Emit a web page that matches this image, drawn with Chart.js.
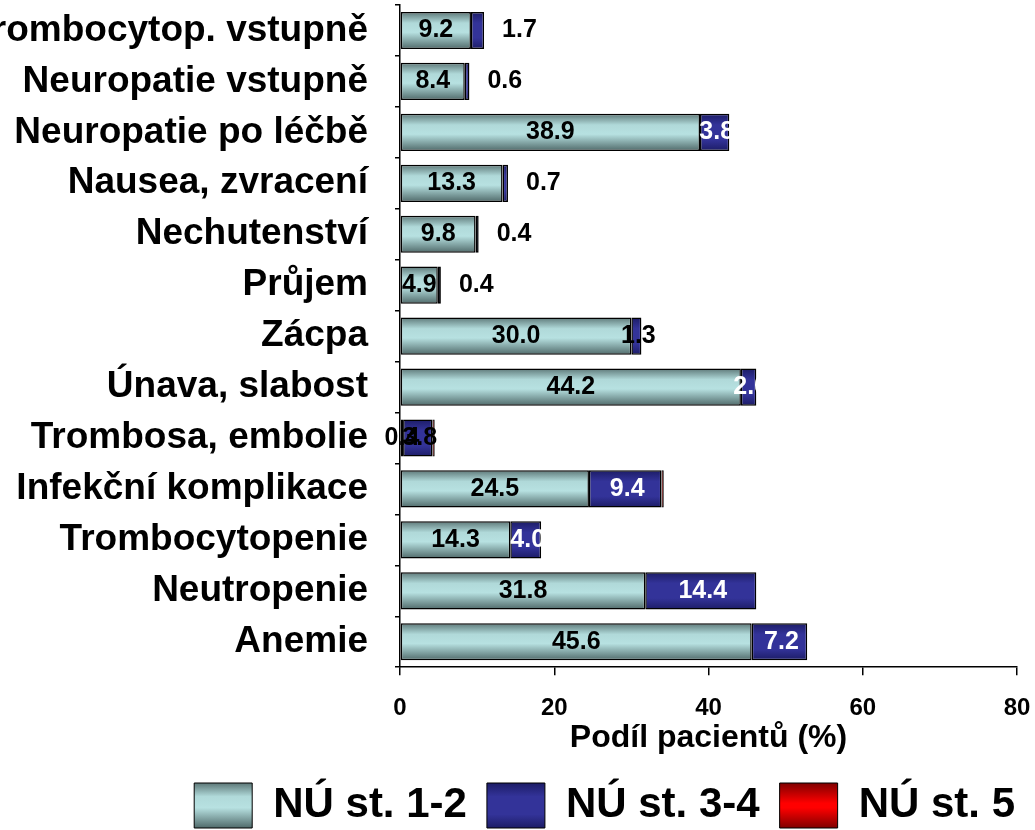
<!DOCTYPE html>
<html lang="cs">
<head>
    <meta charset="UTF-8">
    <title>Nežádoucí účinky</title>
    <style>
        body {
            margin: 0;
            padding: 0;
            background-color: #ffffff;
        }
        .wrap {
            width: 1035px;
            height: 830px;
            position: relative;
        }
    </style>
    <script src="https://cdn.jsdelivr.net/npm/chart.js"></script>
</head>
<body>
    <div class="wrap">
        <canvas id="aeChart"></canvas>
    </div>

    <script>
        // Kategorie (shora dolů)
        const categories = [
            "Trombocytop. vstupně",
            "Neuropatie vstupně",
            "Neuropatie po léčbě",
            "Nausea, zvracení",
            "Nechutenství",
            "Průjem",
            "Zácpa",
            "Únava, slabost",
            "Trombosa, embolie",
            "Infekční komplikace",
            "Trombocytopenie",
            "Neutropenie",
            "Anemie"
        ];

        // Podíl pacientů (%) podle stupně
        const grade12 = [9.2, 8.4, 38.9, 13.3, 9.8, 4.9, 30.0, 44.2, 0.4, 24.5, 14.3, 31.8, 45.6];
        const grade34 = [1.7, 0.6, 3.8, 0.7, 0.4, 0.4, 1.3, 2.0, 3.8, 9.4, 4.0, 14.4, 7.2];
        const grade5 = [0, 0, 0, 0, 0, 0, 0, 0, 0.3, 0.3, 0, 0, 0];

        const seriesNames = ["NÚ st. 1-2", "NÚ st. 3-4", "NÚ st. 5"];
        const xTicks = [0, 20, 40, 60, 80];

        const FONT = 'Arial, "Liberation Sans", sans-serif';
        Chart.defaults.font.family = FONT;
        Chart.defaults.color = "#000";

        const BAR_PCT = 0.73;

        // barevné přechody (nahoře tmavší, uprostřed světlá, dole tmavší)
        const tealStops = [[0, "#5d7878"], [0.3, "#b0d9d9"], [0.55, "#b7e1e1"], [1, "#506a6a"]];
        const blueStops = [[0, "#1c1c66"], [0.3, "#333399"], [0.7, "#333399"], [1, "#1c1c66"]];
        const redStops = [[0, "#800000"], [0.45, "#ff0000"], [0.55, "#ff0000"], [1, "#800000"]];

        function makeGradient(ctx, top, bottom, stops) {
            const g = ctx.createLinearGradient(0, top, 0, bottom);
            stops.forEach(s => g.addColorStop(s[0], s[1]));
            return g;
        }

        function barFill(stops) {
            return function (c) {
                const chart = c.chart;
                const area = chart.chartArea;
                if (!area || c.type !== "data") return stops[1][1];
                const cy = chart.scales.y.getPixelForValue(c.dataIndex);
                const h = (area.bottom - area.top) / categories.length * BAR_PCT;
                return makeGradient(chart.ctx, cy - h / 2, cy + h / 2, stops);
            };
        }

        // popisky hodnot
        const outsideRows = [0, 1, 3, 4, 5];
        const darkRows = [6, 8];
        const valueLabels = {
            id: "valueLabels",
            afterDatasetsDraw(chart) {
                const ctx = chart.ctx;
                ctx.save();
                ctx.font = "bold 25px " + FONT;
                ctx.textBaseline = "middle";
                chart.getDatasetMeta(0).data.forEach((bar, i) => {
                    ctx.fillStyle = "#000";
                    ctx.textAlign = "center";
                    ctx.fillText(grade12[i].toFixed(1), (bar.x + bar.base) / 2, bar.y);
                });
                chart.getDatasetMeta(1).data.forEach((bar, i) => {
                    const txt = grade34[i].toFixed(1);
                    if (outsideRows.includes(i)) {
                        ctx.fillStyle = "#000";
                        ctx.textAlign = "left";
                        ctx.fillText(txt, bar.x + 18, bar.y);
                    } else {
                        ctx.fillStyle = darkRows.includes(i) ? "#000" : "#fff";
                        ctx.textAlign = "center";
                        ctx.fillText(txt, (bar.x + bar.base) / 2 + 2, bar.y);
                    }
                });
                ctx.restore();
            }
        };

        // přechody i v legendě
        const legendGradients = {
            id: "legendGradients",
            beforeDraw(chart) {
                const lg = chart.legend;
                if (!lg || !lg.legendHitBoxes) return;
                const all = [tealStops, blueStops, redStops];
                lg.legendItems.forEach((item, i) => {
                    const hb = lg.legendHitBoxes[i];
                    if (!hb) return;
                    item.fillStyle = makeGradient(chart.ctx, hb.top, hb.top + 45, all[i]);
                });
            }
        };

        const ctx = document.getElementById("aeChart").getContext("2d");
        const aeChart = new Chart(ctx, {
            type: "bar",
            data: {
                labels: categories,
                datasets: [
                    {
                        label: seriesNames[0],
                        data: grade12,
                        backgroundColor: barFill(tealStops),
                        borderColor: "#000",
                        borderWidth: 1.5,
                        borderSkipped: false
                    },
                    {
                        label: seriesNames[1],
                        data: grade34,
                        backgroundColor: barFill(blueStops),
                        borderColor: "#000",
                        borderWidth: 1.5,
                        borderSkipped: false
                    },
                    {
                        label: seriesNames[2],
                        data: grade5,
                        backgroundColor: barFill(redStops),
                        borderColor: "#000",
                        borderWidth: 1,
                        borderSkipped: false
                    }
                ]
            },
            options: {
                indexAxis: "y",
                responsive: true,
                maintainAspectRatio: false,
                animation: false,
                barPercentage: BAR_PCT,
                categoryPercentage: 1,
                layout: {
                    padding: { top: 5, right: 0, left: 0, bottom: -8 }
                },
                plugins: {
                    tooltip: { enabled: false },
                    legend: {
                        position: "bottom",
                        align: "end",
                        labels: {
                            boxWidth: 58,
                            boxHeight: 45,
                            padding: 20,
                            font: { size: 42, weight: "bold" },
                            color: "#000",
                            generateLabels(chart) {
                                return chart.data.datasets.map((ds, i) => ({
                                    text: ds.label,
                                    fillStyle: [tealStops, blueStops, redStops][i][1][1],
                                    strokeStyle: "#000",
                                    lineWidth: 1,
                                    hidden: false,
                                    datasetIndex: i
                                }));
                            }
                        }
                    }
                },
                scales: {
                    x: {
                        stacked: true,
                        min: xTicks[0],
                        max: xTicks[xTicks.length - 1],
                        afterBuildTicks(scale) {
                            scale.ticks = xTicks.map(v => ({ value: v }));
                        },
                        afterFit(scale) {
                            scale.paddingLeft = 0;
                            scale.paddingRight = 18;
                        },
                        ticks: {
                            padding: 19,
                            font: { size: 24, weight: "bold" },
                            color: "#000"
                        },
                        grid: {
                            display: true,
                            drawOnChartArea: false,
                            drawTicks: true,
                            tickLength: 8,
                            color: "#000",
                            lineWidth: 1.5
                        },
                        border: { display: true, color: "#000", width: 1.5 },
                        title: {
                            display: true,
                            text: "Podíl pacientů (%)",
                            font: { size: 32, weight: "bold", lineHeight: 1 },
                            color: "#000",
                            padding: { top: -20, bottom: 9 }
                        }
                    },
                    y: {
                        stacked: true,
                        afterFit(scale) {
                            scale.width = 400;
                            scale.paddingTop = 0;
                            scale.paddingBottom = 0;
                        },
                        ticks: {
                            autoSkip: false,
                            padding: 27,
                            font: { size: 37, weight: "bold" },
                            color: "#000"
                        },
                        grid: {
                            display: true,
                            drawOnChartArea: false,
                            drawTicks: true,
                            tickLength: 5,
                            offset: true,
                            color: "#000",
                            lineWidth: 1.5
                        },
                        border: { display: true, color: "#000", width: 1.5 }
                    }
                }
            },
            plugins: [valueLabels, legendGradients]
        });
    </script>
</body>
</html>
